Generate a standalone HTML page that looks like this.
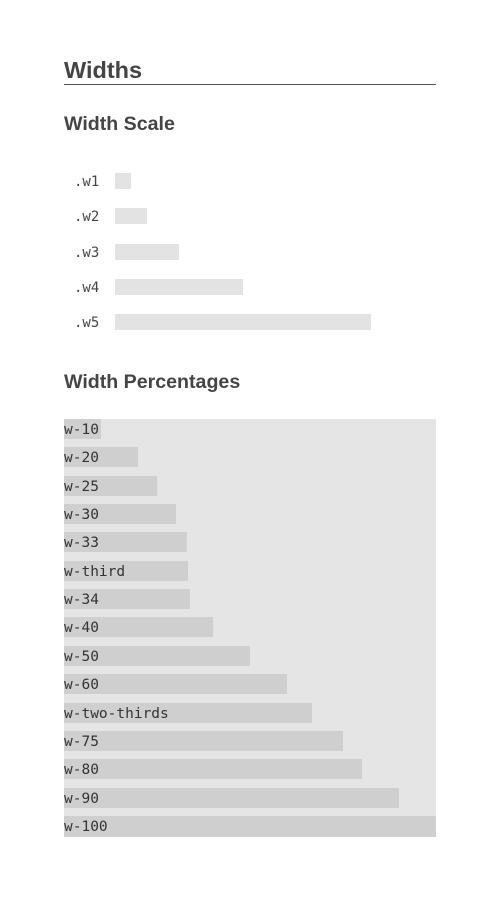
<!DOCTYPE html>
<html><head><meta charset="utf-8"><style>
body{margin:0;width:500px;height:909px;background:#fff;font-family:"Liberation Sans",sans-serif;color:#444;position:relative;overflow:hidden}
.abs{position:absolute}
h1,h2{margin:0;font-weight:bold}
.lbl{font-family:"DejaVu Sans Mono","Liberation Mono",monospace;font-size:14px;color:#444}
.bar{background:#e3e3e3}
</style></head><body>
<h1 class="abs" style="left:64px;top:56px;font-size:23.5px;line-height:28px">Widths</h1>
<div class="abs" style="left:64px;top:84px;width:372px;height:1px;background:#555"></div>
<h2 class="abs" style="left:64px;top:112px;font-size:19.6px;line-height:24px">Width Scale</h2>
<div id="scale"></div>
<h2 class="abs" style="left:64px;top:370px;font-size:19.6px;line-height:24px">Width Percentages</h2>
<div id="pct" class="abs" style="left:64px;top:419px;width:372px;height:418px;background:#e5e5e5"></div>
<script>
const scaleLabels=[".w1",".w2",".w3",".w4",".w5"];
const scaleWidths=[16,32,64,128,256];
const pctLabels=["w-10","w-20","w-25","w-30","w-33","w-third","w-34","w-40","w-50","w-60","w-two-thirds","w-75","w-80","w-90","w-100"];
const pctValues=[10,20,25,30,33,33.33,34,40,50,60,66.67,75,80,90,100];
const scale=document.getElementById('scale');
scaleLabels.forEach((t,i)=>{
  const y=173+i*35.3;
  const l=document.createElement('div');
  l.className='abs lbl';l.style.cssText=`left:74px;top:${y+1}px;line-height:16px`;l.textContent=t;
  
  
  scale.appendChild(l);
  const b=document.createElement('div');
  b.className='abs bar';b.style.cssText=`left:115px;top:${y}px;height:16px;width:${scaleWidths[i]}px`;
  
  
  scale.appendChild(b);
});
const pct=document.getElementById('pct');
const W=372,pitch=28.35;
pctLabels.forEach((t,i)=>{
  const y=i*pitch;
  const b=document.createElement('div');
  b.className='abs';
  b.style.cssText=`left:0;top:${y}px;height:${i==14?21:20}px;width:${W*pctValues[i]/100}px;background:#cfcfcf`;
  
  
  pct.appendChild(b);
  const l=document.createElement('div');
  l.className='abs lbl';
  l.style.cssText=`left:0;top:${y+1}px;line-height:20px;white-space:nowrap;color:#333;font-size:14.5px`;
  l.textContent=t;
  
  
  pct.appendChild(l);
});
</script>
</body></html>
